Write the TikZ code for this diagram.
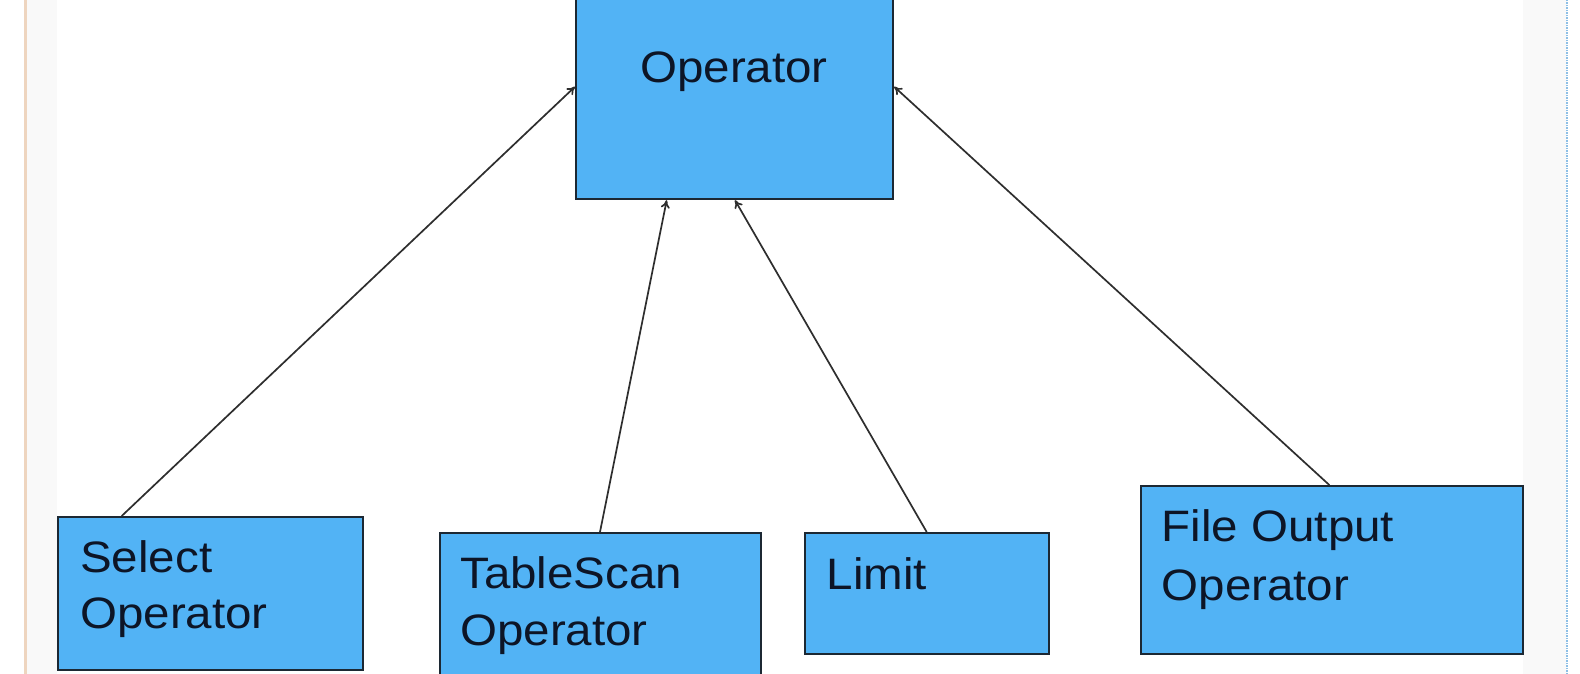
\documentclass[tikz,border=0pt]{standalone}
\usepackage{fontspec}
\setmainfont{Liberation Sans}
\usetikzlibrary{arrows.meta}
\definecolor{boxblue}{HTML}{52B3F5}
\definecolor{boxedge}{HTML}{1C2833}
\definecolor{txt}{HTML}{0D1526}
\definecolor{arrowc}{HTML}{2E2E2E}
\definecolor{sidegray}{HTML}{F9F9F9}
\definecolor{orangeline}{HTML}{EED5BF}
\definecolor{blueline}{HTML}{8DBFE6}
\tikzset{
  opbox/.style={draw=boxedge, line width=2.2pt, fill=boxblue, inner sep=0pt, anchor=north west},
  optext/.style={anchor=base west, inner sep=0pt, text=txt, font=\fontsize{44}{50}\selectfont},
  arr/.style={draw=arrowc, line width=1.7pt, -{To[length=8pt,width=9pt]}}
}
\newcommand{\wtext}[1]{\scalebox{1.08}[1]{#1}}
\begin{document}
\begin{tikzpicture}[x=1pt,y=-1pt]
\useasboundingbox (0,0) rectangle (1580,674);
\fill[white] (0,0) rectangle (1580,674);
\fill[sidegray] (25,0) rectangle (57,674);
\fill[sidegray] (1523,0) rectangle (1567,674);
\draw[orangeline, line width=2.5pt] (25.5,0) -- (25.5,674);
\draw[blueline, line width=2pt, dash pattern=on 1.5pt off 1pt] (1567,0) -- (1567,674);

\node[opbox, minimum width=317pt, minimum height=208pt] (op) at (575,-10) {};
\node[opbox, minimum width=304.5pt, minimum height=153pt] (sel) at (57,516) {};
\node[opbox, minimum width=321.5pt, minimum height=158pt] (ts) at (438.5,532) {};
\node[opbox, minimum width=244.5pt, minimum height=120.5pt] (lim) at (803.5,532) {};
\node[opbox, minimum width=381.7pt, minimum height=167.5pt] (fo) at (1140,485) {};

\node[optext] (optx) at (640,83) {\wtext{Operator}};
\node[optext] (sel1) at (80,572) {\wtext{Select}};
\node[optext] (sel2) at (80,628) {\wtext{Operator}};
\node[optext] (ts1) at (460,588) {\wtext{TableScan}};
\node[optext] (ts2) at (460,645) {\wtext{Operator}};
\node[optext] (lim1) at (826.5,589) {\wtext{Limit}};
\node[optext] (fo1) at (1161.5,541.5) {\wtext{File Output}};
\node[optext] (fo2) at (1161.5,600) {\wtext{Operator}};

\draw[arr] ([xshift=64.7pt]sel.north west) -- ([yshift=-96.7pt]op.north west);
\draw[arr] ([xshift=161.5pt]ts.north west) -- ([xshift=91.7pt]op.south west);
\draw[arr] ([xshift=123.2pt]lim.north west) -- ([xshift=160pt]op.south west);
\draw[arr] ([xshift=189.3pt]fo.north west) -- ([yshift=-96.7pt]op.north east);
\end{tikzpicture}
\end{document}
